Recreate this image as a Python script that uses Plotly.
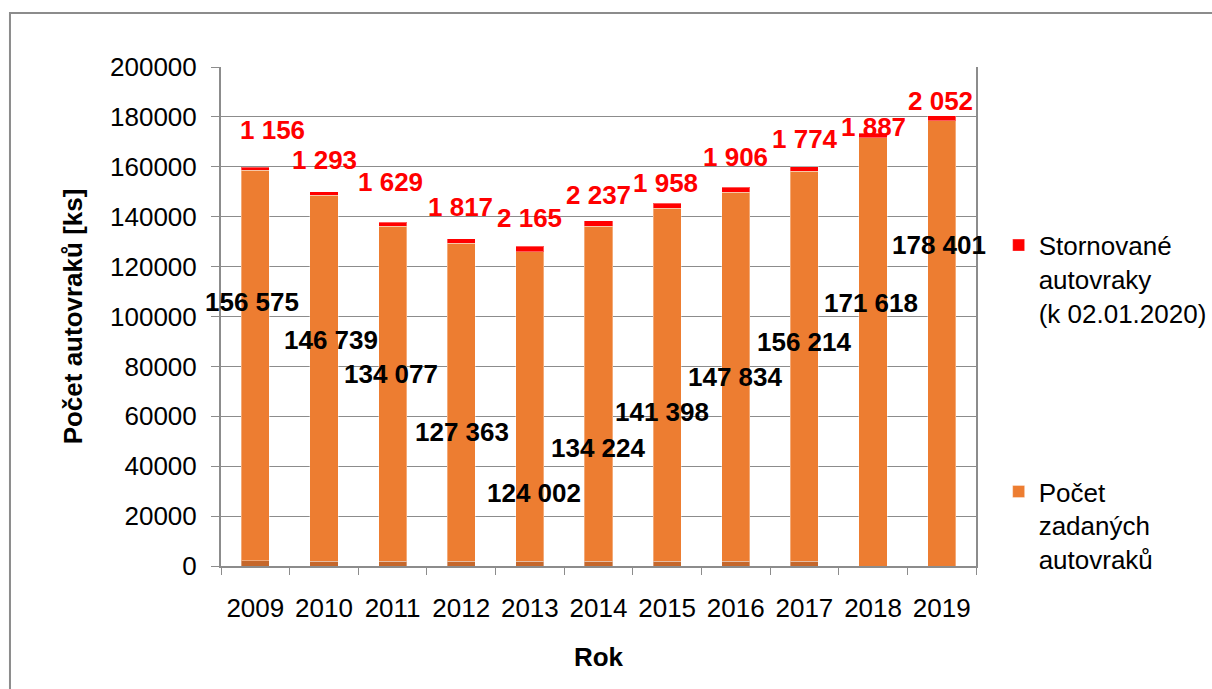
import plotly.graph_objects as go

years = ["2009", "2010", "2011", "2012", "2013", "2014", "2015", "2016", "2017", "2018", "2019"]
zadane = [156575, 146739, 134077, 127363, 124002, 134224, 141398, 147834, 156214, 171618, 178401]
stornovane = [1156, 1293, 1629, 1817, 2165, 2237, 1958, 1906, 1774, 1887, 2052]
base_strip = [2100, 1900, 2000, 2000, 2000, 2000, 2000, 2000, 2000, 0, 0]

y_ticks = [0, 20000, 40000, 60000, 80000, 100000, 120000, 140000, 160000, 180000, 200000]

# label placement (styling / position only)
black_label_y = [105800, 90600, 77000, 53700, 29300, 47300, 61700, 75800, 89800, 105400, 128700]
black_label_dx = [-3, 7, -2, 1, 4, 0, -5, 0, 0, -2, -3]
red_label_y = [174700, 162700, 153900, 143900, 139500, 148700, 153500, 163900, 171100, 176000, 186400]
red_label_dx = [17, 1, -2, -1, 0, 0, -2, 0, 1, 0, -1]

FONT = "Liberation Sans, Arial, sans-serif"
GRAY = "#8c8c8c"


def fmt(v):
    return f"{v:,}".replace(",", " ")


fig = go.Figure()
fig.add_trace(go.Bar(
    x=years, y=base_strip, marker=dict(color="#C5672B", line=dict(color="rgba(255,255,255,0.35)", width=1)),
    showlegend=False, hoverinfo="skip"))
fig.add_trace(go.Bar(
    x=years, y=zadane, name="Počet<br>zadaných<br>autovraků",
    marker=dict(color="#ED7D31", line=dict(color="rgba(255,255,255,0.35)", width=1)),
    legendgroup="b", legendrank=2))
fig.add_trace(go.Bar(
    x=years, y=stornovane, name="Stornované<br>autovraky<br>(k 02.01.2020)",
    marker=dict(color="#FF0000", line=dict(color="rgba(255,255,255,0.35)", width=1)),
    legendgroup="a", legendrank=1))

annotations = []
for i, yr in enumerate(years):
    annotations.append(dict(x=i, y=black_label_y[i], xref="x", yref="y", text=fmt(zadane[i]),
                            showarrow=False, xshift=black_label_dx[i],
                            font=dict(family=FONT, size=26, color="black", weight="bold")))
    annotations.append(dict(x=i, y=red_label_y[i], xref="x", yref="y", text=fmt(stornovane[i]),
                            showarrow=False, xshift=red_label_dx[i],
                            font=dict(family=FONT, size=26, color="#FF0000", weight="bold")))

fig.update_layout(
    width=1212, height=689,
    margin=dict(l=221, r=236, t=67, b=123, autoexpand=False),
    paper_bgcolor="white", plot_bgcolor="white",
    barmode="stack", bargap=0.59,
    font=dict(family=FONT, size=26, color="black"),
    annotations=annotations,
    legend=dict(x=1.03, xanchor="left", y=0.69, yanchor="top", traceorder="grouped",
                tracegroupgap=142, valign="top",
                font=dict(family=FONT, size=26, color="black"), bgcolor="rgba(0,0,0,0)"),
    shapes=[dict(type="rect", xref="paper", yref="paper", x0=-0.2795, y0=-0.26, x1=1.33, y1=1.1082,
                 line=dict(color=GRAY, width=2), layer="below")],
)
fig.update_xaxes(
    type="category", automargin=False, range=[-0.5, 10.5],
    showline=True, linecolor=GRAY, linewidth=2, mirror=False,
    ticks="outside", tickson="boundaries", ticklen=7, tickcolor=GRAY, tickwidth=1,
    ticklabelstandoff=18, tickangle=0,
    tickfont=dict(family=FONT, size=26, color="black"),
    title=dict(text="<b>Rok</b>", font=dict(family=FONT, size=26, color="black"), standoff=26),
)
fig.update_yaxes(
    range=[0, 200000], tickvals=y_ticks, tickformat="d", automargin=False,
    showline=True, linecolor=GRAY, linewidth=2, mirror=True,
    ticks="outside", ticklen=8, tickcolor=GRAY, tickwidth=1, ticklabelstandoff=9,
    showgrid=True, gridcolor=GRAY, gridwidth=1,
    tickfont=dict(family=FONT, size=26, color="black"),
    title=dict(text="<b>Počet autovraků [ks]</b>", font=dict(family=FONT, size=26, color="black"), standoff=20),
)

fig.write_html(
    "out.html",
    config={"displayModeBar": False},
    post_script="document.documentElement.style.overflow='hidden';"
                "document.body.style.margin='0';document.body.style.overflow='hidden';",
)
